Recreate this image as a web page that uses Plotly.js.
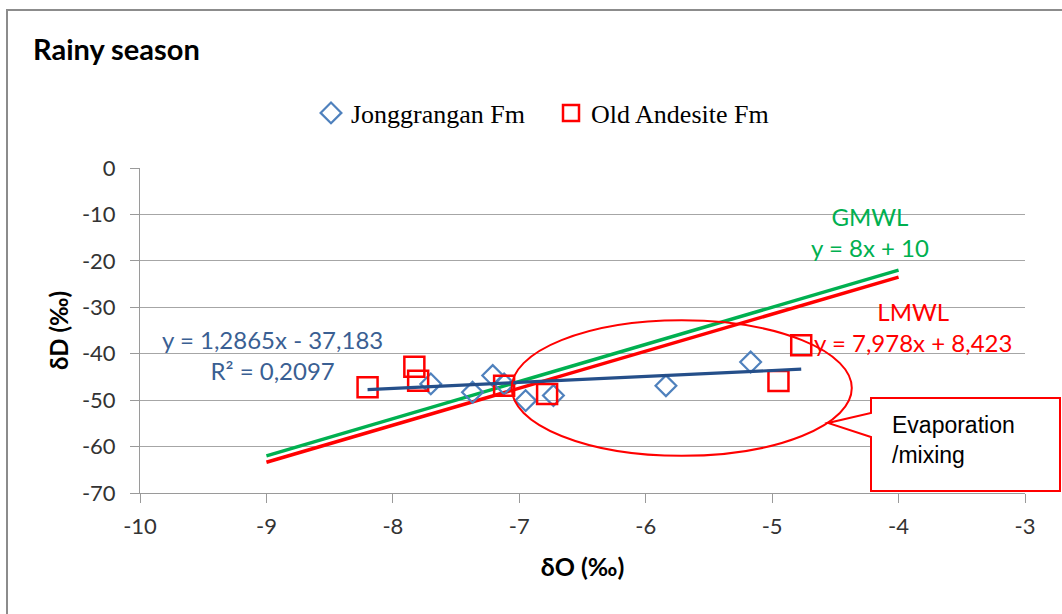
<!DOCTYPE html>
<html>
<head>
<meta charset="utf-8">
<script src="https://cdn.plot.ly/plotly-3.0.1.min.js"></script>
<style>
html,body{margin:0;padding:0;background:#fff;}
#chart{width:1062px;height:614px;}
</style>
</head>
<body>
<div id="chart"></div>
<script>
// ---- Data ----
const jongX = [-7.70, -7.37, -7.21, -7.12, -6.95, -6.73, -5.84, -5.17];
const jongY = [-46.5, -48.3, -44.7, -46.5, -50.1, -49.0, -46.9, -41.8];

const oldX = [-8.20, -7.83, -7.80, -7.12, -6.78, -4.95, -4.77];
const oldY = [-47.2, -42.8, -45.8, -46.9, -48.7, -45.9, -38.2];

const trendX = [-8.20, -4.77];
const trendY = [-47.73, -43.32];

const gmwlX = [-9, -4];
const gmwlY = [-62.0, -22.0];

const lmwlX = [-9, -4];
const lmwlY = [-63.38, -23.49];

const xTicks = [-10, -9, -8, -7, -6, -5, -4, -3];
const yTicks = [0, -10, -20, -30, -40, -50, -60, -70];

const seriesNames = ["Jonggrangan Fm", "Old Andesite Fm"];
const trendLabel = "y = 1,2865x - 37,183<br>R² = 0,2097";
const gmwlLabel = "GMWL<br>y = 8x + 10";
const lmwlLabel = "LMWL<br>y = 7,978x + 8,423";
const boxLabel = "Evaporation<br>/mixing";

// ---- Layout helpers (pixel -> paper) ----
const L = 140, R = 37, T = 168, B = 121, W = 1062, H = 614;
const pw = W - L - R, ph = H - T - B;
const px = x => (x - L) / pw;
const py = y => (H - B - y) / ph;

const cal = "Lato, 'Open Sans', sans-serif";

const traces = [
  {x: gmwlX, y: gmwlY, mode: 'lines', line: {color: '#00B050', width: 3.5}, showlegend: false, hoverinfo: 'skip'},
  {x: lmwlX, y: lmwlY, mode: 'lines', line: {color: '#FF0000', width: 3.5}, showlegend: false, hoverinfo: 'skip'},
  {x: jongX, y: jongY, mode: 'markers', name: seriesNames[0],
   marker: {symbol: 'diamond-open', size: 16, color: '#4F81BD', line: {width: 2.2, color: '#4F81BD'}}},
  {x: oldX, y: oldY, mode: 'markers', name: seriesNames[1],
   marker: {symbol: 'square-open', size: 20, color: '#FF0000', line: {width: 2.5, color: '#FF0000'}}},
  {x: trendX, y: trendY, mode: 'lines', line: {color: '#254F8A', width: 3.2}, showlegend: false, hoverinfo: 'skip'}
];

const calloutPath = 'M ' + px(871) + ',' + py(398) +
  ' L ' + px(1060) + ',' + py(398) +
  ' L ' + px(1060) + ',' + py(491) +
  ' L ' + px(871) + ',' + py(491) +
  ' L ' + px(871) + ',' + py(437) +
  ' L ' + px(828) + ',' + py(423) +
  ' L ' + px(871) + ',' + py(413) + ' Z';

const layout = {
  width: W, height: H,
  margin: {l: L, r: R, t: T, b: B},
  paper_bgcolor: '#ffffff', plot_bgcolor: '#ffffff',
  showlegend: true,
  title: {
    text: '<b>Rainy season</b>', xref: 'container', yref: 'container',
    x: 33 / W, xanchor: 'left', y: 1 - 50 / H, yanchor: 'middle',
    font: {family: cal, size: 29, color: '#000000'}
  },
  legend: {
    orientation: 'h', x: px(311), xanchor: 'left', y: py(113), yanchor: 'middle',
    font: {family: "'Liberation Serif', 'Times New Roman', serif", size: 26, color: '#000000'},
    bgcolor: 'rgba(0,0,0,0)', itemclick: false, tracegroupgap: 0,
    entrywidth: 195, entrywidthmode: 'pixels'
  },
  xaxis: {
    range: [-10, -3], tickvals: xTicks, ticktext: xTicks.map(String),
    showgrid: false, zeroline: false, showline: true, linecolor: '#9A9A9A', linewidth: 1,
    ticks: 'outside', ticklen: 9, tickcolor: '#9A9A9A', tickwidth: 1,
    ticklabelstandoff: 5,
    tickfont: {family: cal, size: 22, color: '#333333'},
    title: {text: '<b>δO (‰)</b>', font: {family: cal, size: 25, color: '#000000'}, standoff: 20}
  },
  yaxis: {
    range: [-70, 0], tickvals: yTicks, ticktext: yTicks.map(String),
    showgrid: true, gridcolor: '#A6A6A6', gridwidth: 1, zeroline: false,
    showline: true, linecolor: '#9A9A9A', linewidth: 1,
    ticks: 'outside', ticklen: 9, tickcolor: '#9A9A9A', tickwidth: 1,
    ticklabelstandoff: 10,
    tickfont: {family: cal, size: 22, color: '#333333'},
    title: {text: '<b>δD (‰)</b>', font: {family: cal, size: 24, color: '#000000'}, standoff: 6}
  },
  shapes: [
    {type: 'rect', xref: 'paper', yref: 'paper', x0: px(7), x1: px(1075), y0: py(630), y1: py(10),
     line: {color: '#8C8C8C', width: 2}, fillcolor: 'rgba(0,0,0,0)', layer: 'below'},
    {type: 'circle', xref: 'x', yref: 'y', x0: -7.06, x1: -4.37, y0: -62.0, y1: -32.8,
     line: {color: '#FF0000', width: 2}, fillcolor: 'rgba(0,0,0,0)', layer: 'above'},
    {type: 'path', xref: 'paper', yref: 'paper', path: calloutPath,
     line: {color: '#FF0000', width: 2}, fillcolor: '#ffffff', layer: 'above'}
  ],
  annotations: [
    {xref: 'paper', yref: 'paper', x: px(272), y: py(355), xanchor: 'center', yanchor: 'middle',
     text: trendLabel, showarrow: false, align: 'center',
     font: {family: cal, size: 24, color: '#3A5F93'}},
    {xref: 'paper', yref: 'paper', x: px(870), y: py(232), xanchor: 'center', yanchor: 'middle',
     text: gmwlLabel, showarrow: false, align: 'center',
     font: {family: cal, size: 24, color: '#00B050'}},
    {xref: 'paper', yref: 'paper', x: px(913), y: py(327), xanchor: 'center', yanchor: 'middle',
     text: lmwlLabel, showarrow: false, align: 'center',
     font: {family: cal, size: 24, color: '#FF0000'}},
    {xref: 'paper', yref: 'paper', x: px(890), y: py(440), xanchor: 'left', yanchor: 'middle',
     text: boxLabel, showarrow: false, align: 'left',
     font: {family: "'Liberation Sans', Arial, sans-serif", size: 23, color: '#000000'}}
  ]
};

Plotly.newPlot('chart', traces, layout, {displayModeBar: false, staticPlot: true});
</script>
</body>
</html>
